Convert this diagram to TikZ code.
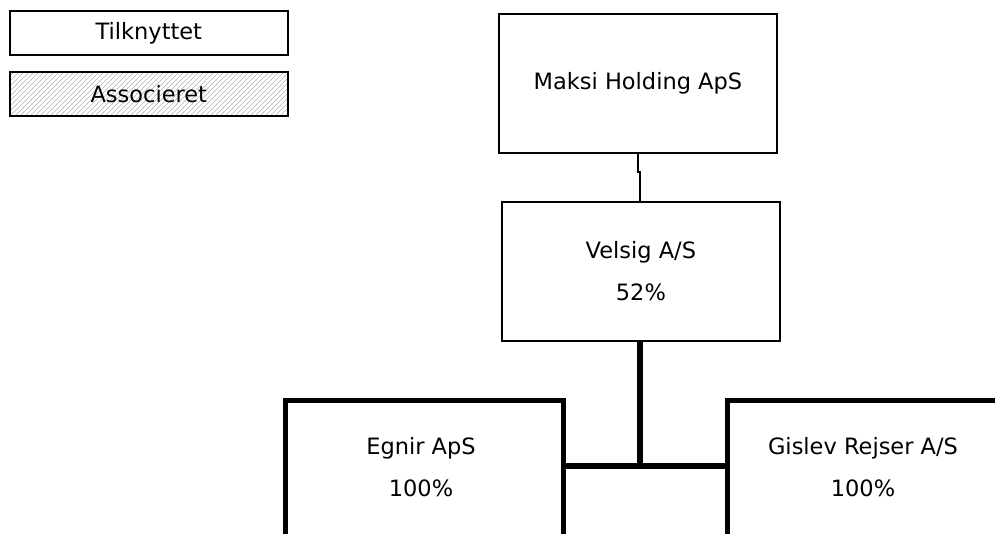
\documentclass[tikz,border=0pt]{standalone}
\usepackage{fontspec}
\setmainfont{DejaVu Sans}
\begin{document}
\begin{tikzpicture}[x=1pt,y=-1pt,
  txt/.style={font=\fontsize{22.5}{42}\selectfont,align=center},
  legendbox/.style={draw=black,line width=1.6pt,minimum width=278pt,minimum height=44pt,anchor=north west,inner sep=0pt,font=\fontsize{22.5}{26}\selectfont},
  orgbox/.style={draw=black,line width=1.8pt,minimum width=278pt,minimum height=139pt,anchor=north west,inner sep=0pt,txt},
  bigbox/.style={draw=black,line width=5.2pt,minimum width=278pt,minimum height=160pt,anchor=north west,inner sep=0pt},
  hatchline/.style={draw=black!30,line width=0.6pt},
  thinlink/.style={draw=black,line width=1.8pt},
  thicklink/.style={draw=black,line width=5.2pt}]
\useasboundingbox (0,0) rectangle (995,533);
\clip (0,0) rectangle (995,533);
\node[legendbox] (tilk) at (9,10) {Tilknyttet};
\begin{scope}
  \clip (9,71) rectangle (287,115);
  \foreach \k in {-50,-45,...,290} {
    \draw[hatchline] (\k,116) -- (\k+46,70);
  }
\end{scope}
\node[legendbox] (assoc) at (9,71) {Associeret};
\node[orgbox] (maksi) at (498,13) {Maksi Holding ApS};
\node[orgbox] (velsig) at (501,201) {Velsig A/S\\52\%};
\node[bigbox] (egnir) at (283,398) {};
\node[txt] (egnirlbl) at (421,467) {Egnir ApS\\100\%};
\node[bigbox] (gislev) at (725,398) {};
\node[txt] (gislevlbl) at (863,467) {Gislev Rejser A/S\\100\%};
\coordinate (j1) at (638,172);
\coordinate (j2) at (640,172);
\coordinate (mid) at (640,466);
\draw[thinlink] (maksi.south -| j1) -- (j1) -- (j2) -- (velsig.north -| j2);
\draw[thicklink] (velsig.south -| mid) -- (mid);
\draw[thicklink] (egnir.east |- mid) -- (gislev.west |- mid);
\end{tikzpicture}
\end{document}
